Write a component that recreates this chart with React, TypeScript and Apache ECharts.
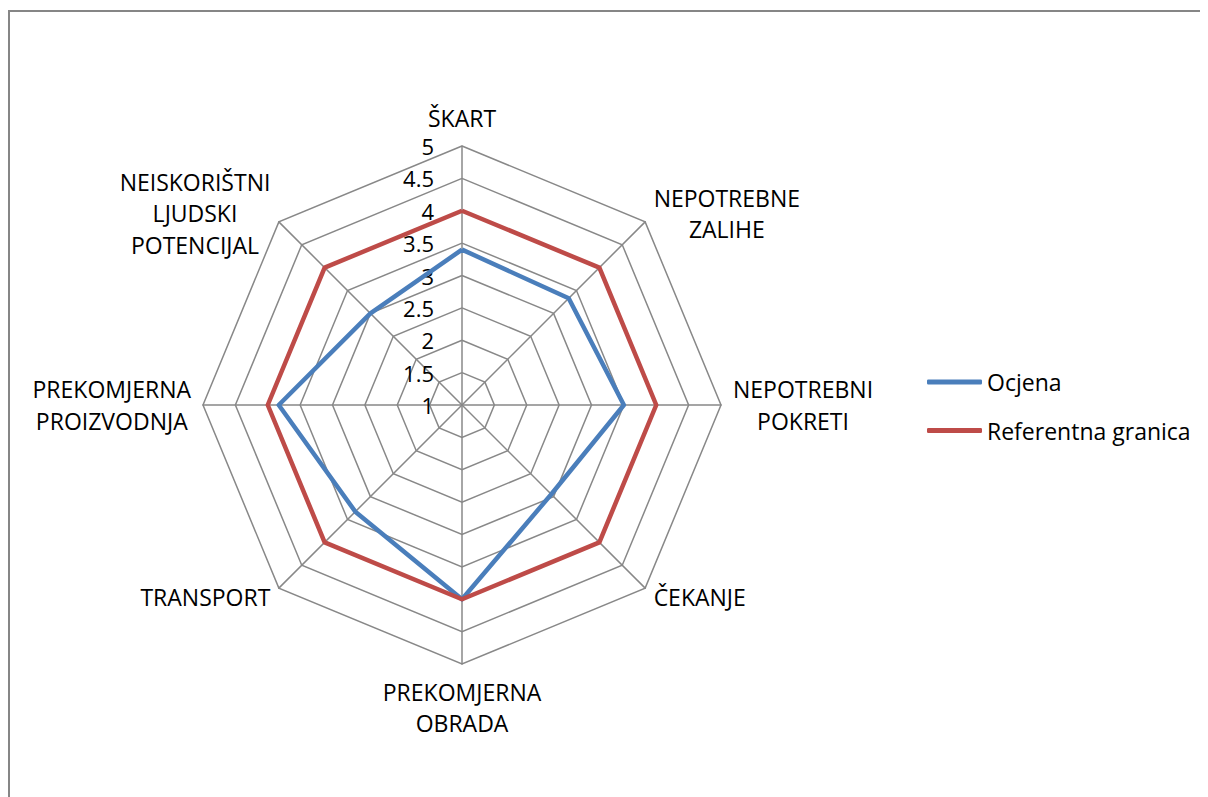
import React, { useEffect, useRef } from "react";
import * as echarts from "echarts";

// ---- data ----
const categories = [
  "ŠKART",
  "NEPOTREBNE\nZALIHE",
  "NEPOTREBNI\nPOKRETI",
  "ČEKANJE",
  "PREKOMJERNA\nOBRADA",
  "TRANSPORT",
  "PREKOMJERNA\nPROIZVODNJA",
  "NEISKORIŠTNI\nLJUDSKI\nPOTENCIJAL",
];
const ocjena = [3.4, 3.33, 3.5, 2.95, 4, 3.33, 3.83, 3];
const referentna = [4, 4, 4, 4, 4, 4, 4, 4];
const seriesNames = ["Ocjena", "Referentna granica"];
const axisMin = 1;
const axisMax = 5;
const axisSplits = 8;

const FONT = "'Open Sans', 'Noto Sans', sans-serif";

export default function App() {
  const ref = useRef<HTMLDivElement>(null);

  useEffect(() => {
    if (!ref.current) return;
    document.documentElement.style.overflow = "hidden";
    document.body.style.overflow = "hidden";
    const chart = echarts.init(ref.current, undefined, { renderer: "svg" });

    // ECharts places radar indicators counter-clockwise; reorder for clockwise layout
    const n = categories.length;
    const order = categories.map((_, i) => (n - i) % n);
    const reorder = (arr: any[]) => order.map((i) => arr[i]);

    const indicator = reorder(categories).map((name: string, i: number) => {
      const ind: any = { name, min: axisMin, max: axisMax };
      if (i === 0) {
        ind.axisLabel = {
          show: true,
          margin: 28,
          fontSize: 22,
          fontFamily: FONT,
          color: "#000",
        };
      }
      return ind;
    });

    const option: any = {
      animation: false,
      backgroundColor: "#fff",
      graphic: [
        {
          type: "line",
          shape: { x1: 0, y1: 3, x2: 1400, y2: 3 },
          style: { stroke: "#868686", lineWidth: 2 },
          silent: true,
        },
        {
          type: "line",
          shape: { x1: 1, y1: 2, x2: 1, y2: 1000 },
          style: { stroke: "#868686", lineWidth: 2 },
          silent: true,
        },
      ],
      legend: {
        orient: "vertical",
        left: 919,
        top: 361,
        padding: 0,
        itemGap: 22.5,
        itemWidth: 55,
        itemHeight: 5,
        icon: "roundRect",
        data: seriesNames,
        textStyle: {
          fontSize: 23,
          fontFamily: FONT,
          color: "#000",
          lineHeight: 26,
        },
      },
      radar: {
        center: [454, 397],
        radius: 259,
        shape: "polygon",
        splitNumber: axisSplits,
        startAngle: 90,
        indicator,
        axisName: {
          color: "#000",
          fontSize: 23,
          fontFamily: FONT,
          lineHeight: 31.5,
          formatter: (name: string) =>
            name
              .split("\n")
              .map((l) => `{c|${l}}`)
              .join("\n"),
          rich: {
            c: {
              align: "center",
              fontSize: 23,
              fontFamily: FONT,
              color: "#000",
              lineHeight: 31.5,
            },
          },
        },
        nameGap: 12,
        axisLine: { show: true, lineStyle: { color: "#888888", width: 1.5 } },
        splitLine: { show: true, lineStyle: { color: "#888888", width: 1.5 } },
        splitArea: { show: false },
        axisTick: { show: false },
        axisLabel: { show: false },
      },
      series: [
        {
          type: "radar",
          symbol: "none",
          data: [
            {
              name: seriesNames[0],
              value: reorder(ocjena),
              lineStyle: { color: "#4A7EBB", width: 4.5 },
              itemStyle: { color: "#4A7EBB" },
            },
            {
              name: seriesNames[1],
              value: reorder(referentna),
              lineStyle: { color: "#BE4B48", width: 4.5 },
              itemStyle: { color: "#BE4B48" },
            },
          ],
        },
      ],
    };

    chart.setOption(option);
    return () => chart.dispose();
  }, []);

  return <div ref={ref} style={{ width: 1200, height: 789 }} />;
}
